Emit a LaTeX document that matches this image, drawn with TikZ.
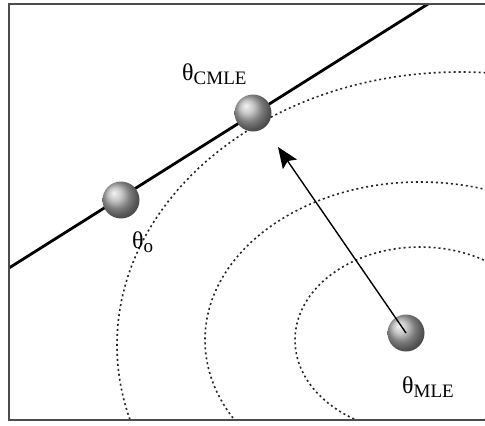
\documentclass[tikz,border=0pt]{standalone}
\usepackage{fontspec}
\setmainfont{Liberation Serif}
\usetikzlibrary{arrows.meta,positioning,calc}

\newcommand{\thlabel}[1]{{\fontsize{24}{24}\selectfont θ}\raisebox{-4pt}{\fontsize{19}{19}\selectfont #1}}

\tikzset{
  est/.style={circle, minimum size=37pt, inner sep=0pt, ball color=gray!60},
  contour/.style={line width=1.6pt, dash pattern=on 2pt off 3pt, black!85},
  lbl/.style={anchor=base west, inner sep=0pt}
}

\begin{document}
\begin{tikzpicture}[x=1pt, y=-1pt, >=Stealth]
    \useasboundingbox (0,0) rectangle (485,426);

    % contours of the likelihood
    \begin{scope}
        \clip (9,4) rectangle (485,420);
        \draw[contour] (420,340) ellipse [x radius=125, y radius=93];
        \draw[contour] (420,340) ellipse [x radius=215, y radius=158];
        \draw[contour] (460,345) ellipse [x radius=343, y radius=273];
    \end{scope}

    % constraint line
    \coordinate (cL) at (9,268);
    \coordinate (cR) at (428,4);
    \draw[line width=2.8pt] (cL) -- (cR);

    % frame
    \draw[line width=1.8pt, gray!60!black] (485,4) -- (9,4) -- (9,420) -- (485,420);

    % estimates
    \node[est] (th0) at (121,200) {};
    \node[est] (cmle) at (253,113) {};
    \node[est] (mle) at (406,333) {};

    \coordinate (tip) at (278,147);
    \draw[line width=1.4pt, -{Stealth[length=21pt, width=17pt, inset=4pt]}] (mle.center) -- (tip);

    \node[lbl] (lcmle) at (182,80) {\thlabel{CMLE}};
    \node[lbl] (lth0) at (132,248) {\thlabel{o}};
    \node[lbl] (lmle) at (402,393) {\thlabel{MLE}};
\end{tikzpicture}
\end{document}
